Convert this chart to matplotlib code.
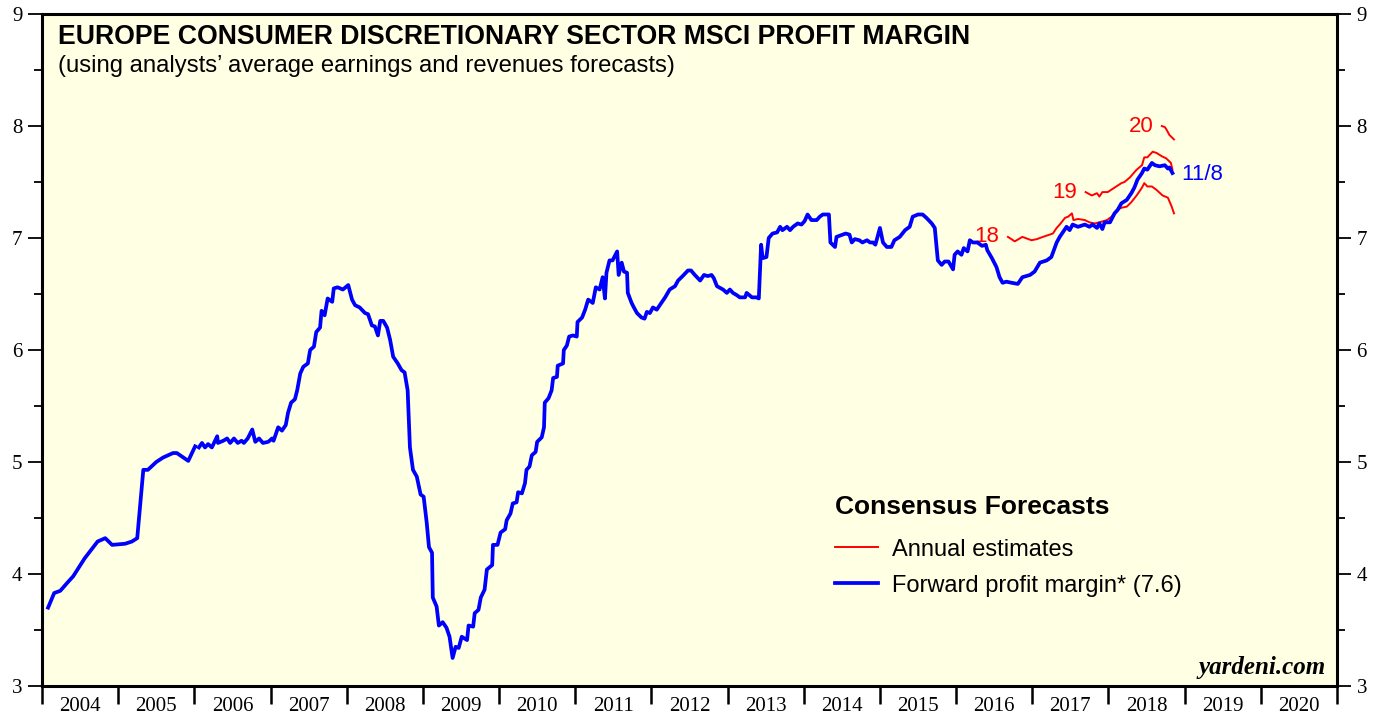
import numpy as np
import matplotlib
matplotlib.use('Agg')
import matplotlib.pyplot as plt
from matplotlib.lines import Line2D

# forward profit margin (decimal year, %), gap early 2006 where the series switches to weekly data
fwd_years = [2004.08, 2004.16, 2004.24, 2004.33, 2004.41, 2004.56, 2004.73, 2004.83, 2004.92, 2005.09,
             2005.18, 2005.25, 2005.33, 2005.39, 2005.50, 2005.59, 2005.72, 2005.77, 2005.92, 2006.01,
             2006.03,
             2006.06, 2006.10, 2006.14, 2006.18, 2006.23, 2006.30, 2006.31, 2006.38, 2006.43, 2006.47,
             2006.52, 2006.57, 2006.62, 2006.65, 2006.70, 2006.76, 2006.80, 2006.85, 2006.90, 2006.97,
             2007.02, 2007.04, 2007.10, 2007.15, 2007.20, 2007.23, 2007.27, 2007.32, 2007.35, 2007.39,
             2007.43, 2007.49, 2007.52, 2007.57, 2007.60, 2007.65, 2007.67, 2007.71, 2007.75, 2007.81,
             2007.83, 2007.88, 2007.95, 2008.02, 2008.07, 2008.11, 2008.17, 2008.24, 2008.28, 2008.33,
             2008.37, 2008.41, 2008.44, 2008.48, 2008.53, 2008.57, 2008.61, 2008.67, 2008.72, 2008.76,
             2008.80, 2008.83, 2008.87, 2008.92, 2008.97, 2009.01, 2009.05, 2009.08, 2009.12, 2009.13,
             2009.18, 2009.21, 2009.26, 2009.31, 2009.35, 2009.38, 2009.39, 2009.43, 2009.47, 2009.51,
             2009.58, 2009.60, 2009.66, 2009.68, 2009.73, 2009.76, 2009.81, 2009.84, 2009.91, 2009.92,
             2009.98, 2010.02, 2010.08, 2010.10, 2010.15, 2010.18, 2010.23, 2010.25, 2010.30, 2010.34,
             2010.36, 2010.40, 2010.43, 2010.48, 2010.50, 2010.56, 2010.59, 2010.60, 2010.65, 2010.69,
             2010.71, 2010.76, 2010.77, 2010.84, 2010.85, 2010.89, 2010.92, 2010.97, 2011.02, 2011.03,
             2011.09, 2011.13, 2011.17, 2011.23, 2011.27, 2011.32, 2011.36, 2011.39, 2011.41, 2011.45,
             2011.49, 2011.55, 2011.57, 2011.61, 2011.64, 2011.68, 2011.69, 2011.74, 2011.77, 2011.81,
             2011.87, 2011.91, 2011.94, 2011.98, 2012.02, 2012.07, 2012.12, 2012.18, 2012.24, 2012.31,
             2012.35, 2012.41, 2012.48, 2012.52, 2012.57, 2012.64, 2012.69, 2012.74, 2012.79, 2012.82,
             2012.86, 2012.94, 2012.99, 2013.03, 2013.07, 2013.12, 2013.16, 2013.23, 2013.25, 2013.32,
             2013.38, 2013.41, 2013.44, 2013.46, 2013.51, 2013.54, 2013.59, 2013.65, 2013.69, 2013.72,
             2013.78, 2013.82, 2013.86, 2013.92, 2013.97, 2014.01, 2014.05, 2014.10, 2014.17, 2014.21,
             2014.25, 2014.29, 2014.33, 2014.35, 2014.41, 2014.43, 2014.51, 2014.55, 2014.60, 2014.63,
             2014.67, 2014.73, 2014.77, 2014.83, 2014.87, 2014.91, 2014.94, 2015.00, 2015.04, 2015.09,
             2015.15, 2015.19, 2015.26, 2015.33, 2015.39, 2015.43, 2015.50, 2015.56, 2015.61, 2015.68,
             2015.72, 2015.76, 2015.81, 2015.85, 2015.90, 2015.96, 2015.98, 2016.02, 2016.07, 2016.10,
             2016.15, 2016.18, 2016.22, 2016.28, 2016.34, 2016.39, 2016.41, 2016.47, 2016.53, 2016.57,
             2016.61, 2016.66, 2016.73, 2016.81, 2016.87, 2016.97, 2017.03, 2017.10, 2017.19, 2017.25,
             2017.32, 2017.36, 2017.40, 2017.45, 2017.49, 2017.53, 2017.60, 2017.69, 2017.75, 2017.79,
             2017.85, 2017.88, 2017.92, 2017.95, 2018.02, 2018.08, 2018.12, 2018.17, 2018.24, 2018.30,
             2018.34, 2018.38, 2018.44, 2018.47, 2018.51, 2018.57, 2018.61, 2018.67, 2018.74, 2018.78,
             2018.80, 2018.84]
fwd_margin = [3.70, 3.83, 3.85, 3.92, 3.98, 4.14, 4.29, 4.32, 4.26, 4.27,
              4.29, 4.32, 4.93, 4.93, 5.00, 5.04, 5.08, 5.08, 5.01, 5.14,
              np.nan,
              5.13, 5.17, 5.13, 5.16, 5.13, 5.23, 5.17, 5.19, 5.21, 5.17,
              5.21, 5.17, 5.19, 5.17, 5.21, 5.29, 5.18, 5.21, 5.17, 5.18,
              5.21, 5.19, 5.31, 5.28, 5.33, 5.44, 5.53, 5.56, 5.64, 5.79,
              5.85, 5.88, 6.00, 6.03, 6.16, 6.20, 6.35, 6.31, 6.46, 6.43,
              6.55, 6.56, 6.54, 6.58, 6.45, 6.40, 6.38, 6.33, 6.32, 6.22,
              6.21, 6.13, 6.26, 6.26, 6.20, 6.09, 5.94, 5.88, 5.82, 5.80,
              5.64, 5.13, 4.93, 4.87, 4.71, 4.69, 4.46, 4.24, 4.19, 3.79,
              3.71, 3.54, 3.57, 3.52, 3.44, 3.30, 3.25, 3.35, 3.34, 3.44,
              3.41, 3.54, 3.53, 3.65, 3.68, 3.79, 3.86, 4.04, 4.08, 4.26,
              4.26, 4.37, 4.40, 4.48, 4.54, 4.63, 4.64, 4.73, 4.72, 4.81,
              4.93, 4.96, 5.06, 5.09, 5.18, 5.22, 5.31, 5.53, 5.57, 5.64,
              5.75, 5.76, 5.86, 5.88, 6.00, 6.04, 6.12, 6.13, 6.12, 6.25,
              6.29, 6.36, 6.45, 6.42, 6.56, 6.54, 6.65, 6.46, 6.69, 6.80,
              6.80, 6.88, 6.67, 6.78, 6.70, 6.69, 6.51, 6.42, 6.38, 6.33,
              6.29, 6.28, 6.34, 6.33, 6.38, 6.36, 6.41, 6.47, 6.54, 6.57,
              6.62, 6.66, 6.71, 6.71, 6.67, 6.62, 6.67, 6.66, 6.67, 6.64,
              6.57, 6.54, 6.51, 6.54, 6.51, 6.49, 6.47, 6.47, 6.51, 6.47,
              6.47, 6.46, 6.94, 6.82, 6.83, 7.00, 7.04, 7.05, 7.10, 7.07,
              7.10, 7.07, 7.10, 7.13, 7.12, 7.15, 7.21, 7.16, 7.16, 7.19,
              7.21, 7.21, 7.21, 6.96, 6.92, 7.01, 7.03, 7.04, 7.03, 6.96,
              6.99, 6.98, 6.96, 6.98, 6.96, 6.96, 6.94, 7.09, 6.96, 6.92,
              6.92, 6.98, 7.01, 7.07, 7.10, 7.19, 7.21, 7.21, 7.18, 7.13,
              7.09, 6.80, 6.76, 6.79, 6.79, 6.72, 6.85, 6.88, 6.85, 6.91,
              6.88, 6.98, 6.96, 6.96, 6.93, 6.94, 6.89, 6.82, 6.74, 6.65,
              6.60, 6.61, 6.60, 6.59, 6.65, 6.67, 6.70, 6.78, 6.80, 6.83,
              6.96, 7.01, 7.05, 7.10, 7.07, 7.12, 7.10, 7.12, 7.10, 7.12,
              7.09, 7.13, 7.08, 7.14, 7.14, 7.22, 7.25, 7.31, 7.34, 7.40,
              7.45, 7.52, 7.58, 7.62, 7.61, 7.67, 7.65, 7.64, 7.65, 7.62,
              7.63, 7.58]

# annual estimates for 2018, 2019, 2020
est18_years = [2016.68, 2016.77, 2016.87, 2016.99, 2017.06, 2017.14, 2017.27, 2017.32, 2017.36, 2017.43,
               2017.47, 2017.52, 2017.54, 2017.60, 2017.69, 2017.75, 2017.82, 2017.88, 2017.98, 2018.04,
               2018.11, 2018.17, 2018.24, 2018.30, 2018.37, 2018.44, 2018.47, 2018.51, 2018.57, 2018.63,
               2018.71, 2018.78, 2018.83, 2018.86]
est18 = [7.01, 6.97, 7.01, 6.98, 6.99, 7.01, 7.04, 7.09, 7.12, 7.18,
         7.19, 7.22, 7.16, 7.17, 7.16, 7.14, 7.13, 7.14, 7.16, 7.19,
         7.25, 7.27, 7.28, 7.32, 7.38, 7.45, 7.49, 7.46, 7.46, 7.43,
         7.38, 7.36, 7.28, 7.22]
est19_years = [2017.70, 2017.78, 2017.85, 2017.88, 2017.92, 2017.99, 2018.08, 2018.17, 2018.21, 2018.28,
               2018.37, 2018.44, 2018.47, 2018.51, 2018.58, 2018.63, 2018.70, 2018.76, 2018.82, 2018.84]
est19 = [7.41, 7.38, 7.40, 7.37, 7.41, 7.41, 7.45, 7.49, 7.50, 7.54,
         7.61, 7.65, 7.72, 7.72, 7.77, 7.76, 7.73, 7.71, 7.67, 7.61]
est20_years = [2018.70, 2018.74, 2018.76, 2018.80, 2018.86]
est20 = [8.00, 7.99, 7.97, 7.92, 7.88]

year_labels = [str(y) for y in range(2004, 2021)]

RED = '#ff0000'
BLUE = '#0000ff'
BG = '#ffffe3'
serif = ['Liberation Serif', 'DejaVu Serif']
sans = ['Liberation Sans', 'DejaVu Sans']

fig = plt.figure(figsize=(13.84, 7.17), dpi=100)
ax = fig.add_axes([42 / 1384, 31 / 717, 1295 / 1384, 672 / 717])
ax.set_facecolor(BG)

for yrs, vals, lab in [(est18_years, est18, '18'), (est19_years, est19, '19'), (est20_years, est20, '20')]:
    ax.plot(yrs, vals, color=RED, lw=1.4, zorder=2)
    ax.annotate(lab, (yrs[0], vals[0]), xytext=(-6, 0), textcoords='offset points',
                ha='right', va='center', color=RED, fontsize=16, family=sans)

ax.plot(fwd_years, fwd_margin, color=BLUE, lw=2.7, zorder=3, solid_joinstyle='round')
ax.annotate('11/8', (fwd_years[-1], fwd_margin[-1]), xytext=(6, -1), textcoords='offset points',
            ha='left', va='center', color=BLUE, fontsize=16, family=sans)

ax.set_xlim(2004, 2021)
ax.set_ylim(3, 9)

# year boundaries as ticks, labels centred between them
ax.set_xticks(range(2004, 2022))
ax.set_xticklabels([])
ax.set_xticks([y + 0.5 for y in range(2004, 2021)], minor=True)
ax.set_xticklabels(year_labels, minor=True, family=serif, fontsize=15)
ax.tick_params(axis='x', which='major', direction='out', length=13, width=1.8)
ax.tick_params(axis='x', which='minor', length=0, pad=8)

ax.set_yticks(range(3, 10))
ax.set_yticks(np.arange(3.5, 9, 1), minor=True)
ax.tick_params(axis='y', which='major', direction='out', length=10, width=1.3,
               left=True, right=True, labelleft=True, labelright=True, pad=4)
ax.tick_params(axis='y', which='minor', direction='out', length=6, width=1.3, left=True, right=True)
for t in ax.get_yticklabels():
    t.set_family(serif)
    t.set_fontsize(15)

for s in ax.spines.values():
    s.set_linewidth(2.2)

ax.text(0.0124, 0.955, 'EUROPE CONSUMER DISCRETIONARY SECTOR MSCI PROFIT MARGIN', transform=ax.transAxes,
        fontsize=19.2, fontweight='bold', family=sans, va='baseline')
ax.text(0.0124, 0.913, '(using analysts\u2019 average earnings and revenues forecasts)', transform=ax.transAxes,
        fontsize=17.2, family=sans, va='baseline')
ax.text(0.991, 0.018, 'yardeni.com', transform=ax.transAxes, ha='right', va='baseline',
        fontsize=18, fontweight='bold', style='italic', family=serif)

handles = [Line2D([], [], color=RED, lw=1.4), Line2D([], [], color=BLUE, lw=2.7)]
leg = ax.legend(handles, ['Annual estimates', 'Forward profit margin* (7.6)'],
                title='Consensus Forecasts', loc='upper left', bbox_to_anchor=(0.612, 0.284),
                frameon=False, fontsize=17, handlelength=1.85, handletextpad=0.6,
                labelspacing=0.6, borderpad=0, borderaxespad=0, alignment='left',
                title_fontproperties={'weight': 'bold', 'size': 19, 'family': sans},
                prop={'family': sans, 'size': 17})
leg._legend_box.sep = 14

fig.savefig('out.png', dpi=100)
